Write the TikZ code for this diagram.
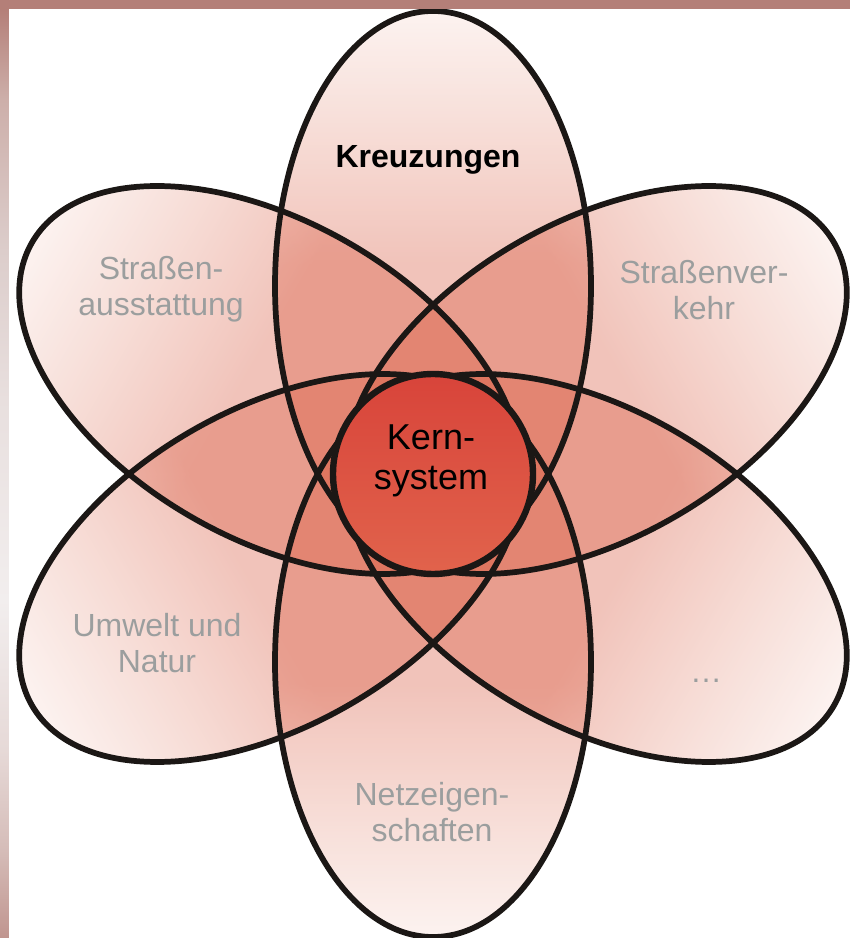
\documentclass[tikz,border=0pt]{standalone}
\usepackage{fontspec}
\setmainfont{Liberation Sans}
\usetikzlibrary{positioning}
\definecolor{ink}{HTML}{1B1715}
\definecolor{petal}{HTML}{D95C43}
\definecolor{petalmid}{HTML}{E9A291}
\definecolor{petalpale}{HTML}{F7DDD6}
\definecolor{muted}{HTML}{9B9E9E}
\definecolor{coretop}{HTML}{D8443A}
\definecolor{corebot}{HTML}{E1634C}
\definecolor{frame}{HTML}{B47F78}
\definecolor{fb0}{HTML}{C0958F}
\definecolor{fb1}{HTML}{D5BCB8}
\definecolor{fb2}{HTML}{E6D9D7}
\definecolor{fb3}{HTML}{F2EEEE}
\definecolor{fb4}{HTML}{E8DFDE}
\definecolor{fb5}{HTML}{DCCDCB}
\definecolor{fb6}{HTML}{CDAFAA}
\pgfdeclarehorizontalshading{petalshade}{100bp}{color(0bp)=(petal); color(52bp)=(petal); color(64bp)=(petalmid); color(75bp)=(petalpale); color(100bp)=(petalpale)}
\pgfdeclareverticalshading{barshade}{100bp}{color(0bp)=(fb0); color(25bp)=(fb0); color(29.7bp)=(fb1); color(35.1bp)=(fb2); color(43.2bp)=(fb3); color(54bp)=(fb4); color(62bp)=(fb5); color(70.1bp)=(fb6); color(75bp)=(frame); color(100bp)=(frame)}
\begin{document}
\begin{tikzpicture}[
 x=.75pt,y=.75pt,
 outline/.style={draw=ink,line width=4.3pt},
 petalfill/.style={shading=petalshade,fill opacity=.37},
 core/.style={circle,minimum size=150pt,inner sep=0pt,top color=coretop,bottom color=corebot,draw=ink,line width=4.8pt},
 lab/.style={font=\fontsize{24}{27}\selectfont,text=muted,align=center,inner sep=0pt},
 corelab/.style={font=\fontsize{27}{30}\selectfont,align=center,inner sep=0pt},
 head/.style={font=\fontsize{24}{27}\selectfont\bfseries,anchor=base,inner sep=0pt}
]
\useasboundingbox (-433,-464) rectangle (417,474);
% petals: soft fill first, outlines on top
\foreach \a in {90,150,210,270,330,30}{
  \begin{scope}[transform canvas={rotate=\a}]
    \shade[petalfill] (188,0) ellipse (275 and 158);
  \end{scope}
}
\foreach \a in {90,150,210,270,330,30}
  \draw[outline,rotate=\a] (188,0) ellipse (275 and 158);
\node[core] (core) at (0,0) {};
\node[corelab] (kern) at (-2,13) {Kern-\\system};
% petal labels
\node[head] (kreuz) at (-5,306) {Kreuzungen};
\node[lab] (ausst) at (-272,184.3) {Straßen-\\ausstattung};
\node[lab] (verk) at (271,183.7) {Straßenver-\\kehr};
\node[lab] (umwelt) at (-276,-169.5) {Umwelt und\\Natur};
\node[lab] (netz) at (-1,-338.5) {Netzeigen-\\schaften};
\node[lab,anchor=base] (more) at (273,-208) {…};
% frame
\fill[frame] (-433,465) rectangle (417,474);
\shade[shading=barshade] (-433,-464) rectangle (-424,465);
\end{tikzpicture}
\end{document}
